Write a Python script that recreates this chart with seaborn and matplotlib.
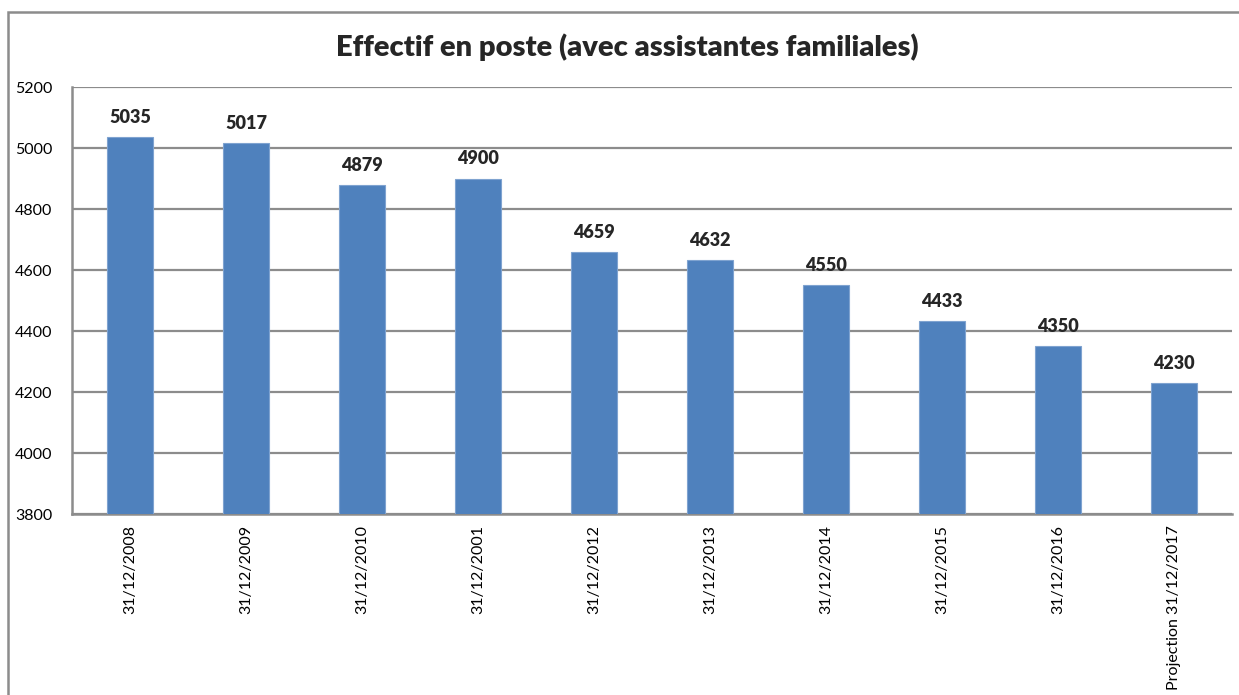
import matplotlib
matplotlib.use('Agg')
import matplotlib.pyplot as plt
import seaborn as sns
import pandas as pd
from matplotlib.patches import Rectangle

dates = ['31/12/2008', '31/12/2009', '31/12/2010', '31/12/2001', '31/12/2012',
         '31/12/2013', '31/12/2014', '31/12/2015', '31/12/2016', 'Projection 31/12/2017']
effectif = [5035, 5017, 4879, 4900, 4659, 4632, 4550, 4433, 4350, 4230]
y_ticks = [3800, 4000, 4200, 4400, 4600, 4800, 5000, 5200]

data = pd.DataFrame({'date': dates, 'effectif': effectif})

sns.set_theme(style='white')
plt.rcParams['font.family'] = ['Lato', 'DejaVu Sans']

grid_col = '#8c8c8c'

fig = plt.figure(figsize=(12.39, 6.95), dpi=100)
ax = fig.add_axes([0.0581, 0.2604, 0.9363, 0.6144])

sns.barplot(x='date', y='effectif', data=data, color='#4F81BD', saturation=1,
            width=0.4, edgecolor='#7fa3d0', linewidth=0.8, ax=ax, zorder=3)

ax.set_ylim(3800, 5200)
ax.set_yticks(y_ticks)
ax.set_xlim(-0.5, len(dates) - 0.5)
ax.yaxis.grid(True, color=grid_col, linewidth=1.6, zorder=0)
ax.set_axisbelow(True)
ax.set_xlabel('')
ax.set_ylabel('')
ax.tick_params(axis='y', labelsize=11.5, length=0, pad=14, colors='black')
ax.tick_params(axis='x', labelsize=11.5, length=0, pad=8, colors='black')
plt.setp(ax.get_xticklabels(), rotation=90)

for s in ['top', 'right']:
    ax.spines[s].set_visible(False)
for s in ['left', 'bottom']:
    ax.spines[s].set_color(grid_col)
    ax.spines[s].set_linewidth(1.8)

for i, v in enumerate(effectif):
    ax.annotate(str(v), (i, v), xytext=(0, 8), textcoords='offset points',
                ha='center', va='bottom', fontsize=13, fontweight='heavy')

fig.text(0.506, 0.932, 'Effectif en poste (avec assistantes familiales)',
         ha='center', va='center', fontsize=21, fontweight='heavy')

# chart area border
fig.patches.append(Rectangle((8 / 1239, -0.1), 1.2, 0.1 + (695 - 12) / 695,
                             transform=fig.transFigure, fill=False,
                             edgecolor='#8c8c8c', linewidth=1.8))

fig.savefig('out.png', dpi=100)
